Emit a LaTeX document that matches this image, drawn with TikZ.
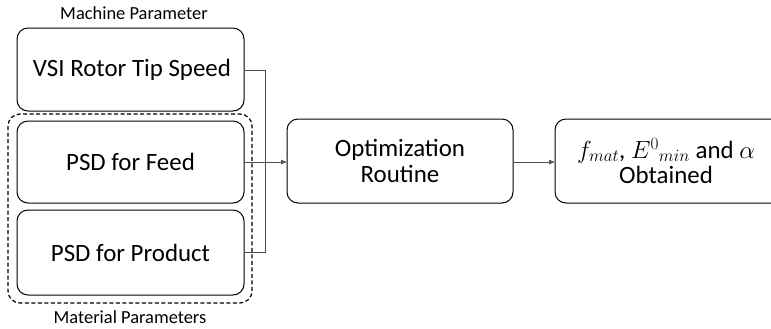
\documentclass[tikz,border=0pt]{standalone}
\usepackage{fontspec}
\setmainfont{Carlito}
\usetikzlibrary{arrows.meta}
\begin{document}
\begin{tikzpicture}[x=1bp,y=-1bp,
  box/.style={draw=black,line width=1bp,rounded corners=11bp},
  conn/.style={draw=black!70,line width=0.7bp},
  arr/.style={conn,-{Latex[length=6bp,width=5bp]}},
  boxtext/.style={font=\fontsize{25}{29}\selectfont,align=center},
  small/.style={font=\fontsize{18.5}{21}\selectfont}]
\useasboundingbox (0,0) rectangle (771,328);
% dashed group
\draw[line width=1.2bp,dash pattern=on 4bp off 2.5bp,rounded corners=12bp] (8,114) rectangle (252,303);
% boxes
\draw[box] (17,28) rectangle (244,111);
\node[boxtext] (vsi) at (132,69.5) {VSI Rotor Tip Speed};
\coordinate (vsiR) at (244,70);
\draw[box] (17,121) rectangle (244,203);
\node[boxtext] (feed) at (130.5,162) {PSD for Feed};
\coordinate (feedR) at (244,162);
\draw[box] (17,210) rectangle (244,295);
\node[boxtext] (prod) at (130.5,252.5) {PSD for Product};
\coordinate (prodR) at (244,252);
\draw[box] (287,119) rectangle (513,203);
\node[boxtext] (opt) at (400,161) {Optimization\\[-3bp]Routine};
\coordinate (optL) at (287,162);
\coordinate (optR) at (513,162);
\draw[box] (555,119) rectangle (790,203);
\node[boxtext] (res) at (666,161) {$f_{mat}$, $E^{0}{}_{min}$ and $\alpha$\\[-3bp]Obtained};
\coordinate (resL) at (555,162);
% labels
\node[small] (mach) at (134,13) {Machine Parameter};
\node[small] (mat) at (130,317) {Material Parameters};
% connectors
\coordinate (j) at (265,70);
\coordinate (k) at (265,252);
\draw[conn] (vsiR) -- (j) -- (k) -- (prodR);
\draw[arr] (feedR) -- (optL);
\draw[arr] (optR) -- (resL);
\end{tikzpicture}
\end{document}
